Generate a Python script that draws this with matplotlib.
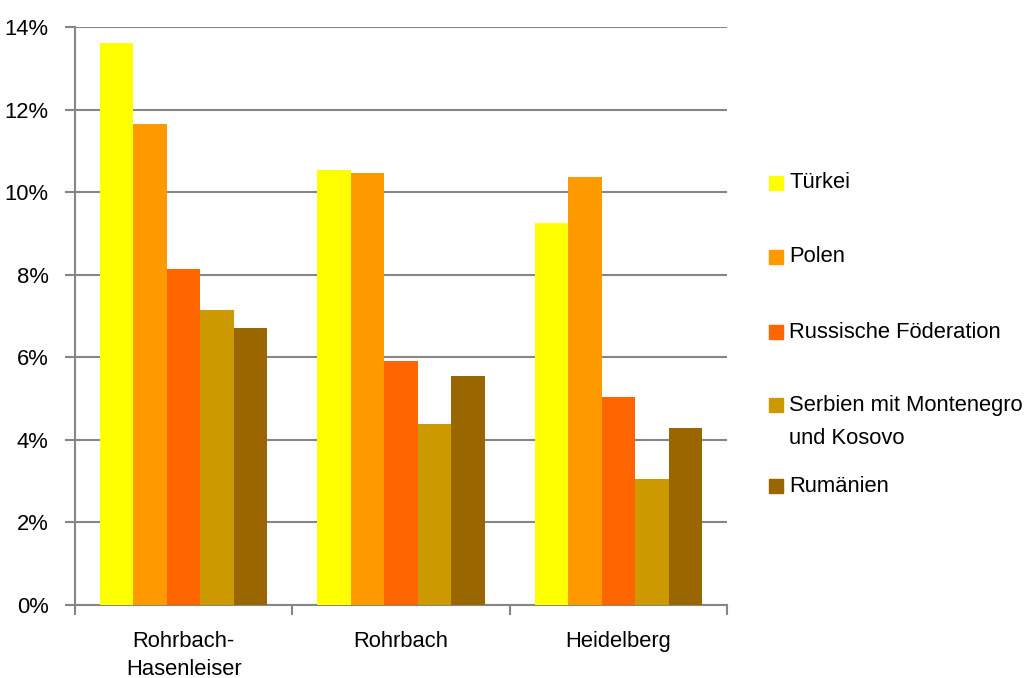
import numpy as np
import matplotlib
matplotlib.use("Agg")
import matplotlib.pyplot as plt
from matplotlib.patches import Rectangle
from matplotlib.ticker import FuncFormatter, FixedLocator

plt.rcParams['font.family'] = ['Liberation Sans', 'DejaVu Sans']

# Anteil der Nationalitäten an der ausländischen Bevölkerung (%)
stadtteile = ['Rohrbach-\nHasenleiser', 'Rohrbach', 'Heidelberg']
laender = ['Türkei', 'Polen', 'Russische Föderation',
           'Serbien mit Montenegro\nund Kosovo', 'Rumänien']
tuerkei = [13.61, 10.53, 9.25]
polen = [11.66, 10.47, 10.37]
russland = [8.14, 5.92, 5.04]
serbien = [7.15, 4.38, 3.05]
rumaenien = [6.72, 5.54, 4.28]
farben = ['#FFFF00', '#FF9900', '#FF6600', '#CC9900', '#996600']

werte = [tuerkei, polen, russland, serbien, rumaenien]

fig = plt.figure(figsize=(10.25, 6.78), dpi=100)
ax = fig.add_axes([75 / 1025, 1 - 605 / 678, 652 / 1025, 578 / 678])

x = np.arange(len(stadtteile))
w = 0.154
for i, (vals, col) in enumerate(zip(werte, farben)):
    ax.bar(x + (i - 2) * w, vals, w, color=col, zorder=3)

grau = '#868686'
ax.set_xlim(-0.5, 2.5)
ax.set_ylim(0, 14)
ax.set_yticks(np.arange(0, 15, 2))
ax.yaxis.set_major_formatter(FuncFormatter(lambda v, p: f'{v:.0f}%'))
ax.grid(axis='y', color=grau, linewidth=1.5, zorder=0)

# Gruppenbeschriftung mittig, Teilstriche an den Gruppengrenzen
ax.set_xticks(x)
ax.set_xticklabels(stadtteile, fontsize=15.8, linespacing=1.4)
ax.tick_params(axis='x', which='major', length=0, pad=19)
ax.xaxis.set_minor_locator(FixedLocator([-0.5, 0.5, 1.5, 2.5]))
ax.tick_params(axis='x', which='minor', length=7, width=1.5, color=grau)
ax.tick_params(axis='y', length=7, width=1.5, color=grau, labelsize=15.8, pad=12)

for s in ['top', 'right']:
    ax.spines[s].set_visible(False)
for s in ['left', 'bottom']:
    ax.spines[s].set_color(grau)
    ax.spines[s].set_linewidth(1.5)

# Legende rechts neben dem Diagramm
leg_y = [183, 257, 332, 422, 486]
for lab, col, yy in zip(laender, farben, leg_y):
    yf = 1 - yy / 678
    if '\n' in lab:
        ym = 1 - 405 / 678
    else:
        ym = yf
    fig.add_artist(Rectangle((769 / 1025, ym - 7 / 678), 14 / 1025, 14 / 678,
                             transform=fig.transFigure, color=col))
    fig.text(789 / 1025, yf, lab, fontsize=15.8, va='center', ha='left',
             linespacing=1.75)

fig.savefig('out.png', dpi=100)
